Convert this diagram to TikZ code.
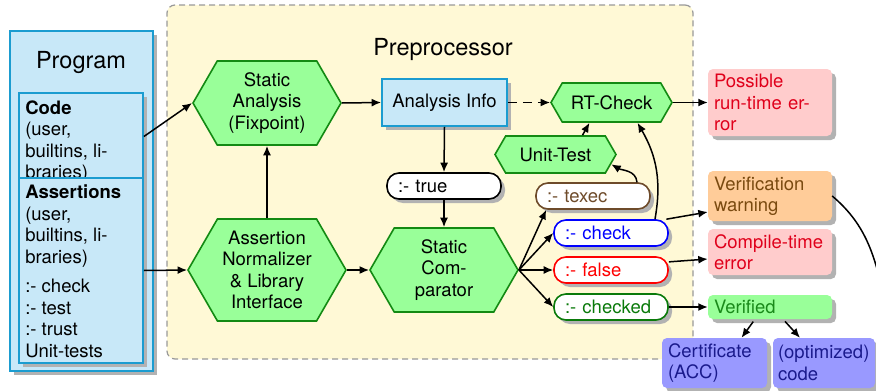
\documentclass[tikz,border=0pt]{standalone}
\usepackage{fontspec}
\setmainfont{TeX Gyre Heros}
\usepackage{xcolor}
\usetikzlibrary{arrows.meta,positioning,shapes.symbols,shadows}

\definecolor{srcfill}{HTML}{C8E8F8}
\definecolor{srcline}{HTML}{1B9CD0}
\definecolor{hexfill}{HTML}{99FF99}
\definecolor{hexline}{HTML}{138A13}
\definecolor{prepfill}{HTML}{FFF9D6}
\definecolor{texecbrown}{HTML}{6E4B2A}
\definecolor{checkgreen}{HTML}{0A7A0A}
\definecolor{errpink}{HTML}{FFCCCC}
\definecolor{errred}{HTML}{E0001B}
\definecolor{warnorange}{HTML}{FFCC99}
\definecolor{warnbrown}{HTML}{7A4A10}
\definecolor{okgreen}{HTML}{99FF99}
\definecolor{okdark}{HTML}{1A8A1A}
\definecolor{certblue}{HTML}{9999FF}
\definecolor{certnavy}{HTML}{1A1A8C}

\begin{document}
\begin{tikzpicture}[
    x=1pt, y=-1pt,
    font=\fontsize{18.5}{21.5}\selectfont,
    arrow/.style={-{Latex[length=9.5pt,width=8pt]}, line width=1.5pt},
    boxshadow/.style={drop shadow={shadow xshift=4pt, shadow yshift=-4pt, fill=black!30, opacity=1}},
    srcbox/.style={rectangle, draw=srcline, fill=srcfill, line width=1.8pt, boxshadow},
    hexa/.style={signal, signal to=east and west, signal pointer angle=120, draw=hexline, fill=hexfill, line width=1.6pt, align=center, inner sep=0pt},
    pill/.style={rectangle, rounded corners=12pt, draw=#1, text=#1, fill=white, line width=1.6pt, minimum width=114pt, minimum height=26pt, text width=92pt, inner xsep=11pt, inner ysep=0pt, align=left, boxshadow},
    result/.style={rectangle, rounded corners=5pt, minimum width=124pt, text width=112pt, inner xsep=6pt, align=left, boxshadow},
    title/.style={font=\fontsize{23.5}{27}\selectfont}
]
\clip (0,0) rectangle (876,391);

% Preprocessor area
\node[rectangle, rounded corners=8pt, draw=black!40, fill=prepfill, line width=1.2pt, dash pattern=on 6pt off 4pt, minimum width=526pt, minimum height=354pt] (prep) at (430,182) {};
\node[title] (preptitle) at (443,49) {Preprocessor};

% Program
\node[srcbox, minimum width=143pt, minimum height=340pt] (program) at (81.5,201) {};
\node[title] (progtitle) at (81,62) {Program};
\node[srcbox, minimum width=124pt, minimum height=87pt] (code) at (81,136.5) {};
\node[anchor=north west, align=left, inner xsep=7pt, inner ysep=8pt] (codetext) at (code.north west) {\textbf{Code}\\(user,\\builtins, li-\\braries)};
\node[srcbox, minimum width=124pt, minimum height=185pt] (asr) at (81,270.5) {};
\node[anchor=north west, align=left, inner xsep=7pt, inner ysep=7.5pt] (asrtext) at (asr.north west) {\textbf{Assertions}\\(user,\\builtins, li-\\braries)\\[8pt]:- check\\:- test\\:- trust\\Unit-tests};

% Preprocessor stages
\node[hexa, minimum width=148pt, minimum height=84pt] (sa) at (267,103) {Static\\Analysis\\(Fixpoint)};
\node[hexa, minimum width=158pt, minimum height=102pt] (norm) at (267,270) {Assertion\\Normalizer\\\& Library\\Interface};
\node[hexa, minimum width=148pt, minimum height=84pt] (comp) at (444,270) {Static\\Com-\\parator};
\node[hexa, minimum width=121pt, minimum height=39pt] (rt) at (611.5,102.5) {RT-Check};
\node[hexa, minimum width=121pt, minimum height=37pt] (ut) at (555.5,154.5) {Unit-Test};
\node[srcbox, minimum width=125pt, minimum height=47pt] (ai) at (444.5,102.5) {Analysis Info};

% Assertion status
\node[pill=black] (true) at (444,186) {:- true};
\node[pill=texecbrown] (texec) at (593,196) {:- texec};
\node[pill=blue] (check) at (611,233) {:- check};
\node[pill=red] (false) at (611,270) {:- false};
\node[pill=checkgreen] (checked) at (611,307) {:- checked};

% Outcomes
\node[result, fill=errpink, text=errred, minimum height=67pt] (rterr) at (770,102.5) {Possible\\run-time er-\\ror};
\node[result, fill=warnorange, text=warnbrown, minimum height=50pt] (warn) at (770,196) {Verification\\warning};
\node[result, fill=errpink, text=errred, minimum height=46pt] (cterr) at (770,252) {Compile-time\\error};
\node[result, fill=okgreen, text=okdark, minimum height=24pt, inner ysep=0pt] (verified) at (770,307) {Verified};
\node[result, fill=certblue, text=certnavy, minimum width=105pt, text width=93pt, minimum height=50pt] (cert) at (714.5,363) {Certificate\\(ACC)};
\node[result, fill=certblue, text=certnavy, minimum width=102pt, text width=92pt, inner xsep=5pt, minimum height=50pt] (optcode) at (824,363) {(optimized)\\code};

% Arrows
\draw[arrow] (code.east) -- (sa.west);
\draw[arrow] (asr.east) -- (norm.west);
\draw[arrow] (norm.north) -- (sa.south);
\draw[arrow] (sa.east) -- (ai.west);
\draw[arrow, dash pattern=on 9pt off 6pt] (ai.east) -- (rt.west);
\draw[arrow] (ai.south) -- (true.north);
\draw[arrow] (true.south) -- (comp.north);
\draw[arrow] (norm.east) -- (comp.west);
\draw[arrow] (comp.east) -- ([xshift=11pt]texec.south west);
\draw[arrow] (comp.east) -- (check.west);
\draw[arrow] (comp.east) -- (false.west);
\draw[arrow] (comp.east) -- (checked.west);
\draw[arrow] ([xshift=44pt]texec.north) to[out=95, in=-30] (ut.-10);
\draw[arrow] ([xshift=27pt]ut.north) -- ([xshift=-22pt]rt.south);
\draw[arrow] ([xshift=44pt]check.north) to[out=80, in=-60] ([xshift=26pt]rt.south);
\draw[arrow] (check.14) -- ([yshift=-16pt]warn.west);
\draw[arrow] (false.8) -- ([yshift=-7pt]cterr.west);
\draw[arrow] (checked.east) -- (verified.west);
\draw[arrow] (rt.east) -- (rterr.west);
\draw[arrow, shorten <=3pt] ([xshift=-15pt]verified.south) -- ([xshift=27pt]cert.north);
\draw[arrow, shorten <=3pt] ([xshift=13pt]verified.south) -- ([xshift=-24pt]optcode.north);

% Leaves the frame on the right
\coordinate (offright) at (892,330);
\draw[line width=1.5pt] (warn.east) to[out=-40, in=105] (offright);
\end{tikzpicture}
\end{document}
